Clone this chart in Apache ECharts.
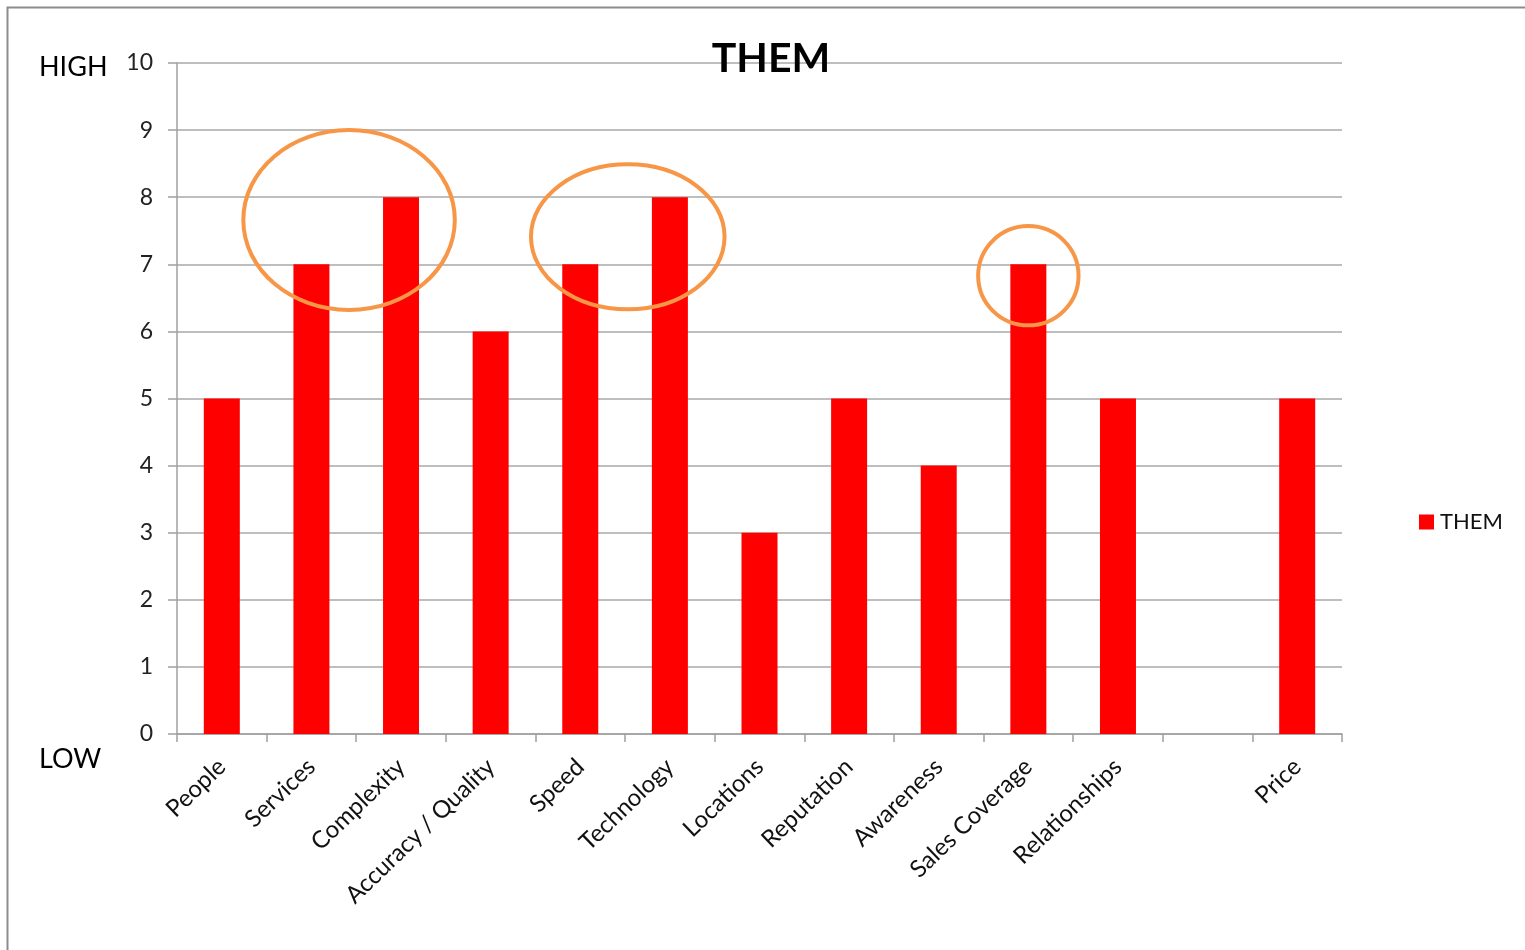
<!DOCTYPE html>
<html>
<head>
<meta charset="utf-8">
<script src="https://cdn.jsdelivr.net/npm/echarts@6/dist/echarts.min.js"></script>
<style>
html,body{margin:0;padding:0;background:#fff;}
#chart{width:1525px;height:950px;}
</style>
</head>
<body>
<div id="chart"></div>
<script>
const categories = ['People','Services','Complexity','Accuracy / Quality','Speed','Technology','Locations','Reputation','Awareness','Sales Coverage','Relationships','','Price'];
const themValues = [5,7,8,6,7,8,3,5,4,7,5,null,5];
const yTicks = [0,1,2,3,4,5,6,7,8,9,10];
// annotation ellipses: [fromCategoryIndex, toCategoryIndex, fraction between, centerValue, radiusInCategories, radiusInValue]
const highlightFrom = [1,4,9];
const highlightTo = [2,5,9];
const highlightFrac = [0.42,0.53,0];
const highlightValue = [7.66,7.41,6.83];
const highlightRx = [1.18,1.08,0.56];
const highlightRy = [1.34,1.08,0.74];

const FONT = 'Lato, "Open Sans", sans-serif';
const chart = echarts.init(document.getElementById('chart'));
chart.setOption({
  animation:false,
  backgroundColor:'#fff',
  title:{
    text:'THEM', left:766, top:33, textAlign:'center',
    textStyle:{fontFamily:FONT,fontSize:41,fontWeight:'bold',color:'#000'}
  },
  legend:{
    left:1414, top:506, itemWidth:15, itemHeight:15, itemGap:6,
    icon:'rect',
    textStyle:{fontFamily:FONT,fontSize:22,color:'#111',padding:[0,0,0,1]},
    data:['THEM']
  },
  grid:{left:177, right:183, top:63, bottom:216, containLabel:false},
  xAxis:{
    type:'category', data:categories, boundaryGap:true,
    axisLine:{lineStyle:{color:'#a0a0a0',width:1.5}},
    axisTick:{show:true,length:8,alignWithLabel:false,lineStyle:{color:'#a0a0a0',width:1.5}},
    axisLabel:{interval:0, rotate:44, margin:29, fontFamily:FONT, fontSize:24, color:'#111'}
  },
  yAxis:{
    type:'value', min:0, max:10, interval:1,
    axisLine:{show:true,lineStyle:{color:'#a0a0a0',width:1.5}},
    axisTick:{show:true,length:9,lineStyle:{color:'#a0a0a0',width:1.5}},
    splitLine:{show:true,lineStyle:{color:'#a8a8a8',width:1.5}},
    axisLabel:{margin:24, fontFamily:FONT, fontSize:23, color:'#222',
      formatter:function(v){return yTicks.indexOf(v)>=0 ? String(v) : '';}}
  },
  series:[{
    name:'THEM', type:'bar', data:themValues, barWidth:36,
    itemStyle:{color:'#ff0000'}
  }]
});

function buildGraphics(){
  const els = [];
  // outer frame
  els.push({type:'rect', left:5, top:5, shape:{x:0,y:0,width:1560,height:990},
    style:{fill:'none',stroke:'#8c8c8c',lineWidth:2}, silent:true});
  els.push({type:'text', left:39, top:54, style:{text:'HIGH',font:'27px '+FONT,fill:'#000'}});
  els.push({type:'text', left:39, top:746, style:{text:'LOW',font:'27px '+FONT,fill:'#000'}});
  const p0 = chart.convertToPixel({gridIndex:0},[0,0]);
  const p1 = chart.convertToPixel({gridIndex:0},[1,1]);
  const catW = p1[0]-p0[0];
  const unitH = p0[1]-p1[1];
  for(let i=0;i<highlightFrom.length;i++){
    const a = chart.convertToPixel({gridIndex:0},[highlightFrom[i],highlightValue[i]]);
    const b = chart.convertToPixel({gridIndex:0},[highlightTo[i],highlightValue[i]]);
    const cx = a[0]+(b[0]-a[0])*highlightFrac[i];
    els.push({type:'ellipse', z:100, silent:true,
      shape:{cx:cx, cy:a[1], rx:highlightRx[i]*catW, ry:highlightRy[i]*unitH},
      style:{fill:'none', stroke:'#f79646', lineWidth:4}});
  }
  chart.setOption({graphic:{elements:els}});
}
buildGraphics();
</script>
</body>
</html>
